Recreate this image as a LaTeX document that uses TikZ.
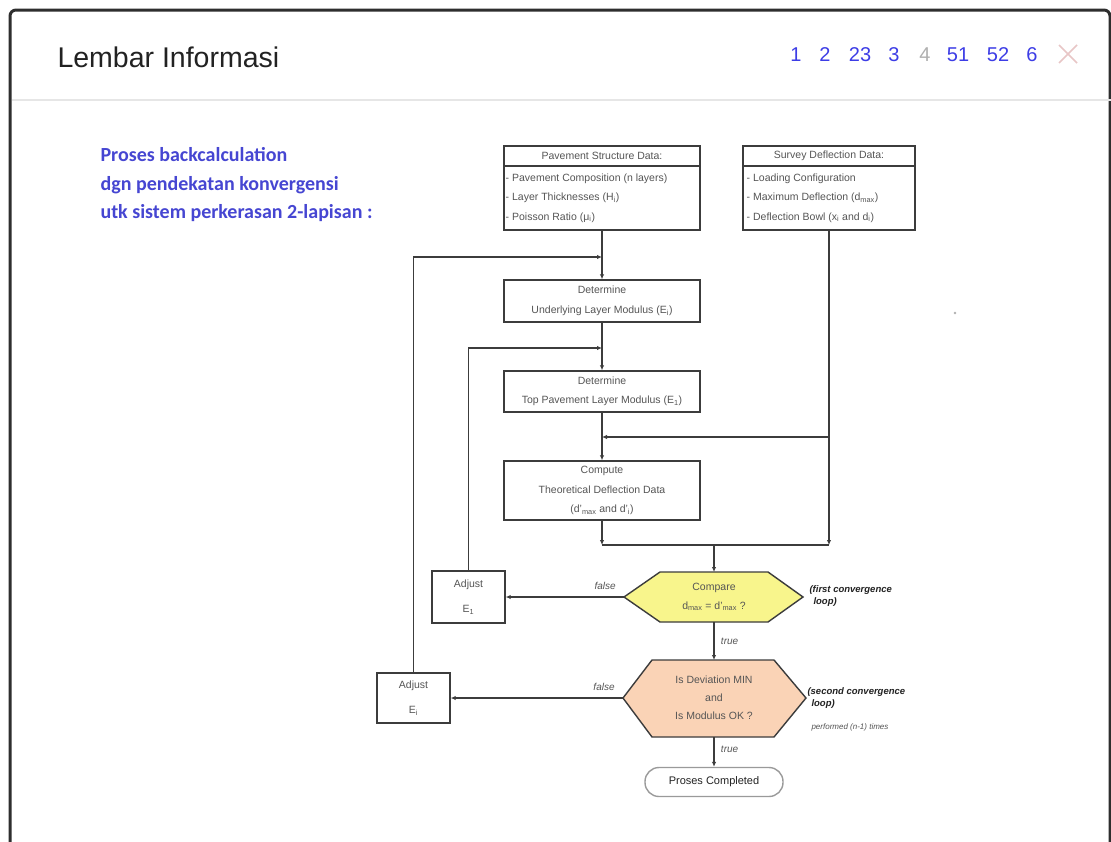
\documentclass[tikz,border=0pt]{standalone}
\usepackage{fontspec}
\setmainfont{Liberation Sans}
\newfontfamily\judulfont{Carlito}
\usetikzlibrary{arrows.meta,positioning,calc}
\definecolor{garis}{HTML}{3C3C3C}
\definecolor{teksabu}{HTML}{555555}
\definecolor{hitam}{HTML}{222222}
\definecolor{biru}{HTML}{3D3DE6}
\definecolor{abu}{HTML}{B0B0B0}
\definecolor{birujudul}{HTML}{4646D2}
\definecolor{kuning}{HTML}{F8F58C}
\definecolor{persik}{HTML}{FAD3B6}
\definecolor{bingkai}{HTML}{2E2E2E}
\definecolor{pemisah}{HTML}{E6E6E6}
\definecolor{silang}{HTML}{E8C6C6}
\definecolor{pil}{HTML}{9A9A9A}

\begin{document}
\begin{tikzpicture}[x=1pt, y=-1pt,
  kotak/.style={draw=garis, line width=1.4pt, text=teksabu, align=center, inner sep=2pt,
    font=\fontsize{10.5}{19.5}\selectfont},
  isi/.style={kotak, draw=none},
  hex/.style={draw=garis, line width=1.4pt, line join=miter},
  panah/.style={draw=garis, line width=1.3pt, -{Latex[length=5pt,width=4.5pt]}},
  garisnya/.style={draw=garis, line width=1.3pt},
  ket/.style={text=teksabu, font=\fontsize{10}{12}\selectfont\itshape},
  loopket/.style={text=hitam, align=left, font=\fontsize{9.5}{12}\selectfont\bfseries\itshape}]
  \useasboundingbox (0,0) rectangle (1111,841);
  \fill[white] (0,0) rectangle (1111,841);
  % window frame and header
  \draw[bingkai, line width=3pt, rounded corners=6pt] (10,870) -- (10,10) -- (1110,10) -- (1110,870);
  \draw[pemisah, line width=2pt] (12,100) -- (1111,100);
  \node[anchor=west, text=hitam, font=\fontsize{28.5}{30}\selectfont] (lembar) at (54,57) {Lembar Informasi};
  \foreach \x/\t/\w in {796/1/biru, 825/2/biru, 860/23/biru, 894/3/biru, 925/4/abu,
                        958/51/biru, 998/52/biru, 1032/6/biru}
    \node[text=\w, font=\fontsize{20}{22}\selectfont] (hal\t) at (\x,55) {\t};
  \coordinate (tutup) at (1068,54);
  \draw[silang, line width=1.6pt] ($(tutup)+(-9,-9)$) -- ($(tutup)+(9,9)$)
    ($(tutup)+(-9,9)$) -- ($(tutup)+(9,-9)$);
  \node[anchor=west, text=birujudul, align=left, font=\judulfont\bfseries\fontsize{20}{28.5}\selectfont]
    (judul) at (97,185) {Proses backcalculation\\dgn pendekatan konvergensi\\utk sistem perkerasan 2-lapisan :};
  \fill[abu] (955,313) circle (1.3);

  % input data
  \node[kotak, minimum width=196pt, minimum height=84pt] (psd) at (602,188) {};
  \draw[garis, line width=1.2pt] (psd.west |- 0,166) -- (psd.east |- 0,166);
  \node[isi] (psdj) at (602,156) {Pavement Structure Data:};
  \node[isi, align=left, anchor=west] (psdi) at (503,198)
    {- Pavement Composition (n layers)\\- Layer Thicknesses (H\textsubscript{i})\\- Poisson Ratio (μ\textsubscript{i})};
  \node[kotak, minimum width=172pt, minimum height=84pt] (sdd) at (829,188) {};
  \draw[garis, line width=1.2pt] (sdd.west |- 0,166) -- (sdd.east |- 0,166);
  \node[isi] (sddj) at (829,156) {Survey Deflection Data:};
  \node[isi, align=left, anchor=west] (sddi) at (744,198)
    {- Loading Configuration\\- Maximum Deflection (d\textsubscript{max})\\- Deflection Bowl (x\textsubscript{i} and d\textsubscript{i})};

  % main column
  \node[kotak, minimum width=196pt, minimum height=42pt] (ul) at (602,301)
    {Determine\\Underlying Layer Modulus (E\textsubscript{i})};
  \node[kotak, minimum width=196pt, minimum height=41pt] (tp) at (602,391.5)
    {Determine\\Top Pavement Layer Modulus (E\textsubscript{1})};
  \node[kotak, minimum width=196pt, minimum height=59pt] (cp) at (602,490.5)
    {Compute\\Theoretical Deflection Data\\(d'\textsubscript{max} and d'\textsubscript{i})};
  \node[kotak, minimum width=73pt, minimum height=52pt, font=\fontsize{10.5}{25}\selectfont]
    (adj1) at (468.5,597) {Adjust\\E\textsubscript{1}};
  \node[kotak, minimum width=73pt, minimum height=50pt, font=\fontsize{10.5}{25}\selectfont]
    (adj2) at (413.5,698) {Adjust\\E\textsubscript{i}};

  % decisions
  \draw[hex, fill=kuning] (624,597) coordinate (h1w) -- (660,572) -- (768,572)
    -- (803,597) -- (768,622) -- (660,622) -- cycle;
  \coordinate (h1n) at (714,572);
  \coordinate (h1s) at (714,622);
  \node[isi, font=\fontsize{10.5}{19}\selectfont] (cmp) at (714,597)
    {Compare\\d\textsubscript{max} = d'\textsubscript{max} ?};
  \draw[hex, fill=persik] (623,698) coordinate (h2w) -- (652,660) -- (774,660)
    -- (806,698) -- (774,737) -- (652,737) -- cycle;
  \coordinate (h2n) at (714,660);
  \coordinate (h2s) at (714,737);
  \node[isi, font=\fontsize{10.5}{18}\selectfont] (dev) at (714,698)
    {Is Deviation MIN\\and\\Is Modulus OK ?};
  \node[draw=pil, line width=1.4pt, rounded corners=14pt, minimum width=138pt, minimum height=29pt,
    text=hitam, font=\fontsize{11}{13}\selectfont] (selesai) at (714,782) {Proses Completed};

  \node[loopket, anchor=north west] (ket1) at (806,582) {(first convergence\\\hspace*{4pt}loop)};
  \node[loopket, anchor=north west] (ket2) at (804,684) {(second convergence\\\hspace*{4pt}loop)};
  \node[ket, anchor=west, font=\fontsize{8}{10}\selectfont\itshape] (ket3) at (808,727) {performed (n-1) times};

  % connectors
  \coordinate (j1) at (602,257);
  \coordinate (j2) at (602,348);
  \coordinate (j3) at (602,437);
  \coordinate (j4) at (602,545);
  \coordinate (j5) at (829,545);
  \coordinate (j6) at (714,545);
  \draw[panah] (psd.south) -- (ul.north);
  \draw[panah] (adj2.north) |- (j1);
  \draw[panah] (ul.south) -- (tp.north);
  \draw[panah] (adj1.north) |- (j2);
  \draw[panah] (tp.south) -- (cp.north);
  \draw[panah] (sdd.south) -- (j5);
  \draw[panah] (j5 |- j3) -- (j3);
  \draw[panah] (cp.south) -- (j4);
  \draw[garisnya] (j4) -- (j5);
  \draw[panah] (j6) -- (h1n);
  \draw[panah] (h1w) -- (h1w -| adj1.east) node[ket, pos=0.16, above=3pt] {false};
  \draw[panah] (h1s) -- (h2n) node[ket, midway, right=3pt] {true};
  \draw[panah] (h2w) -- (h2w -| adj2.east) node[ket, pos=0.11, above=3pt] {false};
  \draw[panah] (h2s) -- (selesai.north) node[ket, pos=0.4, right=3pt] {true};
\end{tikzpicture}
\end{document}
